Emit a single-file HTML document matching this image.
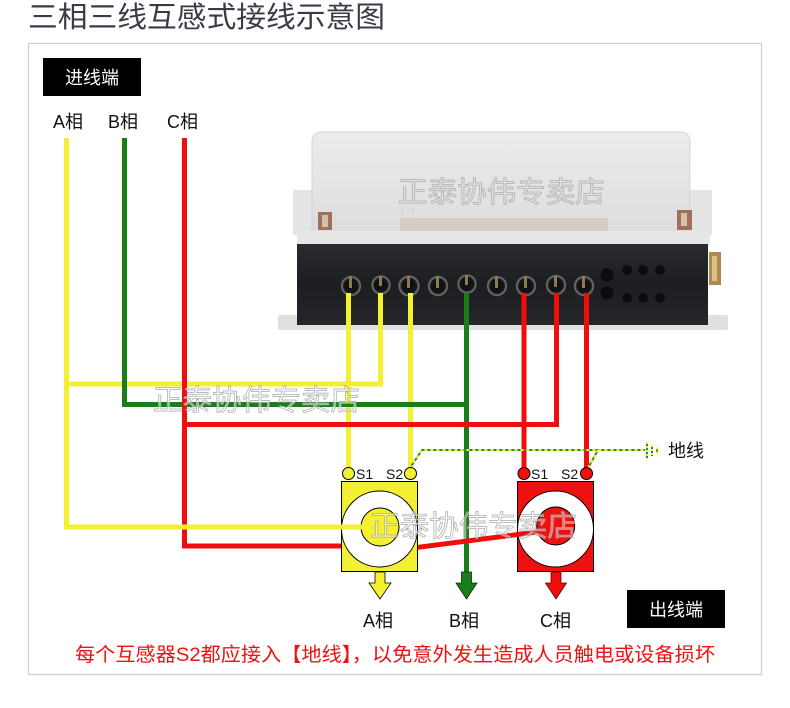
<!DOCTYPE html>
<html><head><meta charset="utf-8"><style>
html,body{margin:0;padding:0;background:#fff;}
svg{display:block;}
text{font-family:"Liberation Sans","Noto Sans CJK SC",sans-serif;}
</style></head><body>
<svg width="790" height="708" viewBox="0 0 790 708" xmlns="http://www.w3.org/2000/svg">
<defs>
<linearGradient id="cov" x1="0" y1="0" x2="0" y2="1"><stop offset="0" stop-color="#ececee"/><stop offset="1" stop-color="#dcdcde"/></linearGradient>
<linearGradient id="body" x1="0" y1="0" x2="0" y2="1"><stop offset="0" stop-color="#2a2b2e"/><stop offset="0.5" stop-color="#1d1e21"/><stop offset="1" stop-color="#25262a"/></linearGradient>
<radialGradient id="term" cx="0.5" cy="0.5" r="0.5"><stop offset="0" stop-color="#0c0c0c"/><stop offset="0.68" stop-color="#151515"/><stop offset="0.88" stop-color="#7a7a7a"/><stop offset="1" stop-color="#2a2a2a"/></radialGradient>
</defs>
<rect width="790" height="708" fill="#fff"/>
<!-- title -->
<text x="28" y="27" font-size="29" fill="#3b3b48" textLength="357" lengthAdjust="spacingAndGlyphs">三相三线互感式接线示意图</text>
<!-- frame -->
<rect x="28.5" y="43.5" width="733" height="631" fill="none" stroke="#cfcfcf" stroke-width="1.2"/>
<!-- 进线端 -->
<rect x="43" y="58" width="98" height="38" fill="#000"/>
<text x="92" y="84" font-size="18" fill="#fff" text-anchor="middle">进线端</text>
<text x="53" y="128" font-size="18" fill="#111">A相</text>
<text x="108" y="128" font-size="18" fill="#111">B相</text>
<text x="167" y="128" font-size="18" fill="#111">C相</text>

<!-- meter -->
<rect x="278" y="315" width="450" height="15" rx="2" fill="#e0e0e0"/>
<rect x="293" y="190" width="22" height="45" fill="#e4e4e6"/>
<rect x="688" y="190" width="24" height="45" fill="#e4e4e6"/>
<rect x="312" y="132" width="378" height="106" rx="9" fill="url(#cov)" stroke="#d4d4d6" stroke-width="1"/>
<text x="398" y="202" font-size="29" fill="#e2e2e4" stroke="#b0b0b4" stroke-width="0.8" textLength="207" lengthAdjust="spacingAndGlyphs">正泰协伟专卖店</text>
<rect x="402" y="208" width="11" height="12" fill="#e0e0e0" stroke="#c8c8c8" stroke-width="0.6"/>
<rect x="400" y="218" width="208" height="13" fill="#d6ccc5"/>
<rect x="297" y="231" width="413" height="14" fill="#e6e6e4"/>
<rect x="297" y="244" width="411" height="81" fill="url(#body)"/>
<!-- brass screws -->
<rect x="318" y="212" width="14" height="18" fill="#a0705a"/>
<rect x="322" y="215" width="6" height="12" fill="#d7c0a8"/>
<rect x="677" y="210" width="15" height="20" fill="#a0705a"/>
<rect x="681" y="213" width="6" height="13" fill="#d7c0a8"/>
<rect x="709" y="252" width="12" height="33" fill="#b08850"/>
<rect x="712" y="256" width="5" height="25" fill="#d9c28a"/>
<!-- terminals -->
<g>
<circle cx="351" cy="286" r="10.5" fill="url(#term)"/>
<circle cx="381" cy="285" r="10" fill="url(#term)"/>
<circle cx="409" cy="286" r="11" fill="url(#term)"/>
<circle cx="438" cy="286" r="10.5" fill="url(#term)"/>
<circle cx="467" cy="284" r="10" fill="url(#term)"/>
<circle cx="497" cy="286" r="10.5" fill="url(#term)"/>
<circle cx="526" cy="286" r="10.5" fill="url(#term)"/>
<circle cx="556" cy="285" r="10.5" fill="url(#term)"/>
<circle cx="584" cy="286" r="10.5" fill="url(#term)"/>
</g>
<g fill="#8a7a55">
<rect x="349" y="276" width="3" height="12"/><rect x="379" y="276" width="3" height="10"/><rect x="407" y="276" width="3" height="12"/><rect x="436" y="276" width="3" height="12"/><rect x="465" y="275" width="3" height="10"/><rect x="495" y="276" width="3" height="12"/><rect x="524" y="276" width="3" height="12"/><rect x="554" y="276" width="3" height="11"/><rect x="582" y="276" width="3" height="12"/>
</g>
<g fill="#0c0c0c">
<circle cx="607" cy="275" r="6.5"/><circle cx="607" cy="293" r="6.5"/>
<circle cx="627" cy="270" r="5"/><circle cx="643" cy="270" r="5"/><circle cx="660" cy="270" r="5"/>
<circle cx="627" cy="298" r="5"/><circle cx="643" cy="298" r="5"/><circle cx="660" cy="298" r="5"/>
</g>

<!-- wires -->
<g fill="none" stroke-width="5" stroke-linejoin="miter">
<path d="M66.5,138 V527 H362" stroke="#f3ef33"/>
<path d="M66.5,384 H380.5 V293" stroke="#f3ef33"/>
<path d="M348.5,293 V468" stroke="#f3ef33"/>
<path d="M410.5,293 V468" stroke="#f3ef33"/>
<path d="M124.5,138 V404.5 H466.5" stroke="#1a7d1a"/>
<path d="M466.5,293 V573" stroke="#1a7d1a"/>
<path d="M184.5,138 V546 H342" stroke="#f00d0d"/>
<path d="M184.5,424.5 H556.5 V293" stroke="#f00d0d"/>
<path d="M524,293 V468" stroke="#f00d0d"/>
<path d="M586.5,293 V468" stroke="#f00d0d"/>
</g>

<!-- ground line -->
<g fill="none" stroke-width="2">
<path d="M410,468 L422,450 H645 M588,468 L598,450" stroke="#2a8a2a"/>
<path d="M410,468 L422,450 H645 M588,468 L598,450" stroke="#f3ef33" stroke-dasharray="3 3"/>
<path d="M647,442 V459 M652,445 V456 M657,447.5 V453.5" stroke="#2a8a2a"/>
<path d="M647,442 V459 M652,445 V456 M657,447.5 V453.5" stroke="#f3ef33" stroke-dasharray="2 2"/>
</g>
<text x="668" y="457" font-size="18" fill="#111">地线</text>

<!-- watermark over wires -->
<text x="153" y="410" font-size="29" fill="#ffffff" fill-opacity="0.55" stroke="#a8a8a8" stroke-width="0.7" textLength="207" lengthAdjust="spacingAndGlyphs">正泰协伟专卖店</text>

<!-- CT A -->
<rect x="341.5" y="481.5" width="76" height="90" fill="#f3ef33" stroke="#000" stroke-width="1"/>
<circle cx="379.5" cy="529" r="38" fill="#fff" stroke="#000" stroke-width="1"/>
<circle cx="380" cy="527" r="19" fill="#f3ef33" stroke="#000" stroke-width="1"/>
<circle cx="348.5" cy="473.5" r="6" fill="#f3ef33" stroke="#000" stroke-width="1"/>
<circle cx="410.5" cy="473.5" r="6" fill="#f3ef33" stroke="#000" stroke-width="1"/>
<text x="356" y="479" font-size="14" fill="#111">S1</text>
<text x="386" y="479" font-size="14" fill="#111">S2</text>

<!-- CT C -->
<rect x="517.5" y="481.5" width="76" height="90" fill="#ef1010" stroke="#000" stroke-width="1"/>
<circle cx="555.5" cy="529" r="38" fill="#fff" stroke="#000" stroke-width="1"/>
<circle cx="555.7" cy="526" r="19" fill="#ef1010" stroke="#000" stroke-width="1"/>
<circle cx="524" cy="473.5" r="6" fill="#ef1010" stroke="#000" stroke-width="1"/>
<circle cx="586.5" cy="473.5" r="6" fill="#ef1010" stroke="#000" stroke-width="1"/>
<text x="531" y="479" font-size="14" fill="#111">S1</text>
<text x="561" y="479" font-size="14" fill="#111">S2</text>

<!-- overlays on CT -->
<path d="M66.5,527 H362" stroke="#f3ef33" stroke-width="5" fill="none"/>
<path d="M418,547.3 L541,531.5" stroke="#f00d0d" stroke-width="5" fill="none"/>
<text x="370" y="536" font-size="29" fill="#ffffff" fill-opacity="0.45" stroke="#a8a8a8" stroke-width="0.7" textLength="207" lengthAdjust="spacingAndGlyphs">正泰协伟专卖店</text>

<!-- arrows -->
<polygon points="375,572 385,572 385,583 391,583 380,599 369,583 375,583" fill="#f3ef33" stroke="#000" stroke-width="0.8"/>
<polygon points="461.5,572 471.5,572 471.5,583 477,583 466.5,599 456,583 461.5,583" fill="#1a7d1a" stroke="#0a300a" stroke-width="0.8"/>
<polygon points="551,572 561,572 561,583 566.5,583 556,599 545.5,583 551,583" fill="#f00d0d" stroke="#600" stroke-width="0.8"/>
<text x="363" y="627" font-size="18" fill="#111">A相</text>
<text x="449" y="627" font-size="18" fill="#111">B相</text>
<text x="540" y="627" font-size="18" fill="#111">C相</text>

<!-- 出线端 -->
<rect x="627" y="590" width="98" height="38" fill="#000"/>
<text x="676" y="616" font-size="18" fill="#fff" text-anchor="middle">出线端</text>

<!-- warning -->
<text x="75" y="661" font-size="19.5" fill="#f01010" textLength="640" lengthAdjust="spacingAndGlyphs">每个互感器S2都应接入【地线】，以免意外发生造成人员触电或设备损坏</text>
</svg>
</body></html>
